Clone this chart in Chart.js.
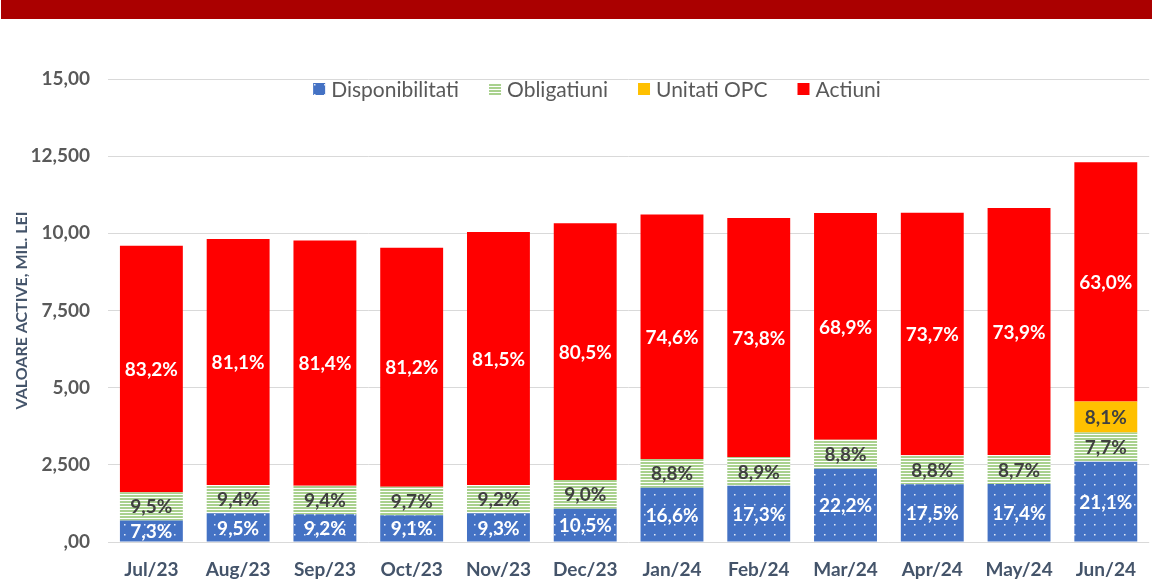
<!DOCTYPE html>
<html>
<head>
<meta charset="utf-8">
<script src="https://cdn.jsdelivr.net/npm/chart.js@4.4.1/dist/chart.umd.min.js"></script>
<style>
  html, body { margin: 0; padding: 0; background: #fff; }
</style>
</head>
<body>
<canvas id="activeChart" width="1152" height="582"></canvas>
<script>
// luni
const months = ['Jul/23', 'Aug/23', 'Sep/23', 'Oct/23', 'Nov/23', 'Dec/23',
  'Jan/24', 'Feb/24', 'Mar/24', 'Apr/24', 'May/24', 'Jun/24'];

// valori (mil. lei)
const disponibilitati = [0.70, 0.93, 0.90, 0.87, 0.93, 1.08, 1.76, 1.82, 2.37, 1.87, 1.88, 2.60];
const obligatiuni     = [0.91, 0.92, 0.92, 0.92, 0.92, 0.93, 0.93, 0.93, 0.94, 0.94, 0.94, 0.95];
const unitatiOPC      = [0, 0, 0, 0, 0, 0, 0, 0, 0, 0, 0, 1.00];
const actiuni         = [7.99, 7.97, 7.95, 7.74, 8.19, 8.32, 7.92, 7.75, 7.35, 7.86, 8.00, 7.75];

// procente afisate pe segmente
const pctDisponibilitati = [7.3, 9.5, 9.2, 9.1, 9.3, 10.5, 16.6, 17.3, 22.2, 17.5, 17.4, 21.1];
const pctObligatiuni     = [9.5, 9.4, 9.4, 9.7, 9.2, 9.0, 8.8, 8.9, 8.8, 8.8, 8.7, 7.7];
const pctUnitatiOPC      = [null, null, null, null, null, null, null, null, null, null, null, 8.1];
const pctActiuni         = [83.2, 81.1, 81.4, 81.2, 81.5, 80.5, 74.6, 73.8, 68.9, 73.7, 73.9, 63.0];

const yTickLabels = [',00', '2,500', '5,00', '7,500', '10,00', '12,500', '15,00'];

const FONT = 'Lato, "Open Sans", sans-serif';

const canvas = document.getElementById('activeChart');
const ctx = canvas.getContext('2d');

function dotPattern() {
  const c = document.createElement('canvas');
  c.width = 10; c.height = 10;
  const p = c.getContext('2d');
  p.fillStyle = '#4472C4';
  p.fillRect(0, 0, 10, 10);
  p.fillStyle = 'rgba(255,255,255,0.85)';
  p.fillRect(4, 4, 1.5, 1.5);
  return ctx.createPattern(c, 'repeat');
}

function stripePattern() {
  const c = document.createElement('canvas');
  c.width = 4; c.height = 3;
  const p = c.getContext('2d');
  p.fillStyle = '#A9D18E';
  p.fillRect(0, 0, 4, 3);
  p.fillStyle = '#ffffff';
  p.fillRect(0, 2, 4, 1);
  return ctx.createPattern(c, 'repeat');
}

const blueFill = dotPattern();
const greenFill = stripePattern();

// banda rosie de sus
const headerBand = {
  id: 'headerBand',
  beforeDraw(chart) {
    const c = chart.ctx;
    c.save();
    c.fillStyle = '#AA0000';
    c.fillRect(1, 0, chart.width - 1, 19);
    c.restore();
  }
};

// etichete procentuale in mijlocul segmentelor
const segmentLabels = {
  id: 'segmentLabels',
  afterDatasetsDraw(chart) {
    const c = chart.ctx;
    c.save();
    c.font = 'bold 19px ' + FONT;
    c.textAlign = 'center';
    c.textBaseline = 'middle';
    chart.data.datasets.forEach((ds, di) => {
      const meta = chart.getDatasetMeta(di);
      meta.data.forEach((bar, i) => {
        const v = ds.shares[i];
        if (v == null) return;
        const pt = bar.getCenterPoint();
        c.fillStyle = ds.labelColor;
        c.fillText(v.toFixed(1).replace('.', ',') + '%', pt.x, pt.y + 1);
      });
    });
    c.restore();
  }
};

// legenda desenata peste zona graficului
const innerLegend = {
  id: 'innerLegend',
  afterDraw(chart) {
    const c = chart.ctx;
    c.save();
    c.font = '21px ' + FONT;
    c.textBaseline = 'middle';
    const box = 12, gap = 6, spacing = 30;
    const items = chart.data.datasets.map(ds => ({
      text: ds.label, fill: ds.backgroundColor, w: c.measureText(ds.label).width
    }));
    const total = items.reduce((s, it) => s + box + gap + it.w, 0) + spacing * (items.length - 1);
    let x = 597 - total / 2;
    const y = 89;
    items.forEach(it => {
      c.fillStyle = it.fill;
      c.fillRect(x, y - box / 2, box, box);
      x += box + gap;
      c.fillStyle = '#595959';
      c.fillText(it.text, x, y + 1);
      x += it.w + spacing;
    });
    c.restore();
  }
};

new Chart(ctx, {
  type: 'bar',
  data: {
    labels: months,
    datasets: [
      { label: 'Disponibilitati', data: disponibilitati, backgroundColor: blueFill,
        shares: pctDisponibilitati, labelColor: '#ffffff' },
      { label: 'Obligatiuni', data: obligatiuni, backgroundColor: greenFill,
        shares: pctObligatiuni, labelColor: '#404040' },
      { label: 'Unitati OPC', data: unitatiOPC, backgroundColor: '#FFC000',
        shares: pctUnitatiOPC, labelColor: '#404040' },
      { label: 'Actiuni', data: actiuni, backgroundColor: '#FF0000',
        shares: pctActiuni, labelColor: '#ffffff' }
    ]
  },
  options: {
    responsive: false,
    animation: false,
    layout: { padding: { top: 79, right: 2, left: 0, bottom: 0 } },
    datasets: {
      bar: { categoryPercentage: 1, barPercentage: 0.725 }
    },
    plugins: {
      legend: { display: false },
      tooltip: { enabled: false }
    },
    scales: {
      x: {
        stacked: true,
        grid: { display: false, drawTicks: false },
        border: { display: false },
        ticks: {
          padding: 16,
          color: '#44546A',
          font: { family: FONT, size: 19, weight: 'bold' }
        },
        afterFit(scale) { scale.height = 40; }
      },
      y: {
        stacked: true,
        min: 0,
        max: 15,
        grid: { color: '#D9D9D9', drawTicks: false },
        border: { display: false },
        ticks: {
          stepSize: 2.5,
          padding: 18,
          color: '#595959',
          font: { family: FONT, size: 19, weight: 'bold' },
          callback: (value, index) => yTickLabels[index]
        },
        title: {
          display: true,
          text: 'VALOARE ACTIVE, MIL. LEI',
          color: '#44546A',
          padding: { top: 12, bottom: 0 },
          font: { family: FONT, size: 16, weight: 'bold' }
        },
        afterFit(scale) { scale.width = 108; }
      }
    }
  },
  plugins: [headerBand, segmentLabels, innerLegend]
});
</script>
</body>
</html>
